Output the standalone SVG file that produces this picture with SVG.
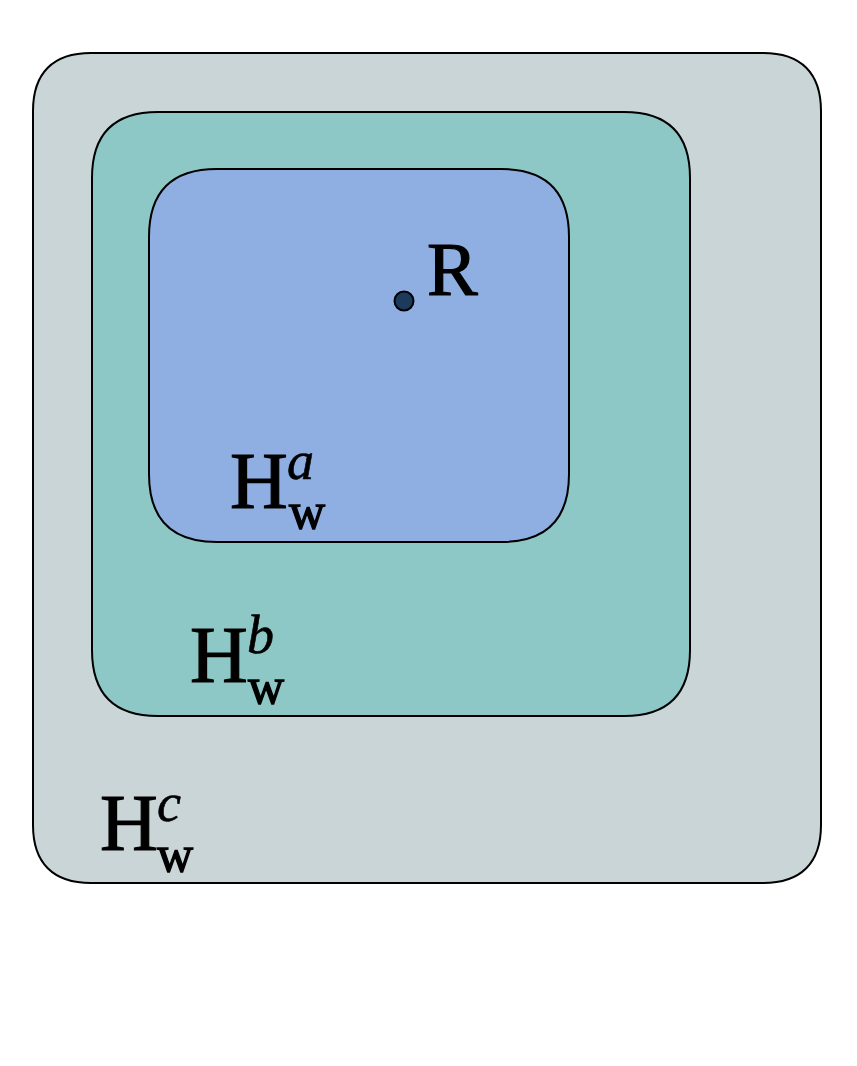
<svg xmlns="http://www.w3.org/2000/svg" width="857" height="1066" viewBox="0 0 857 1066">
<style>
.box{stroke:#000;stroke-width:2}
.lbl{font-family:"Liberation Serif","Times New Roman",serif;fill:#000}
.big{stroke:#000;stroke-width:1.2}
.it{font-style:italic;stroke:#000;stroke-width:0.6}
.sub{stroke:#000;stroke-width:1.3}
</style>
<rect width="857" height="1066" fill="#fff"/>
<g id="Hc">
<path class="box" fill="#c9d5d6" d="M91,53 H763 C801,53 821,73 821,111 V825 C821,863 801,883 763,883 H91 C53,883 33,863 33,825 V111 C33,73 53,53 91,53 Z"/>
<text class="lbl big" x="100" y="850" font-size="80">H</text>
<text class="lbl it" x="157" y="821" font-size="54">c</text>
<text class="lbl sub" x="157" y="871" font-size="50">w</text>
</g>
<g id="Hb">
<path class="box" fill="#8dc8c6" d="M158,112 H624 C668,112 690,134 690,178 V650 C690,694 668,716 624,716 H158 C114,716 92,694 92,650 V178 C92,134 114,112 158,112 Z"/>
<text class="lbl big" x="190" y="682" font-size="80">H</text>
<text class="lbl it" x="247" y="653" font-size="54">b</text>
<text class="lbl sub" x="248" y="703" font-size="50">w</text>
</g>
<g id="Ha">
<path class="box" fill="#8fafe3" d="M217,169 H501 C546,169 569,192 569,237 V474 C569,519 546,542 501,542 H217 C172,542 149,519 149,474 V237 C149,192 172,169 217,169 Z"/>
<text class="lbl big" x="230" y="508" font-size="80">H</text>
<text class="lbl it" x="287" y="479" font-size="54">a</text>
<text class="lbl sub" x="289" y="528" font-size="50">w</text>
</g>
<g id="R">
<circle cx="404" cy="301" r="9.5" fill="#1b3a5c" stroke="#000" stroke-width="2"/>
<text class="lbl big" x="427" y="295" font-size="76">R</text>
</g>
<g id="connectors"/>
</svg>
